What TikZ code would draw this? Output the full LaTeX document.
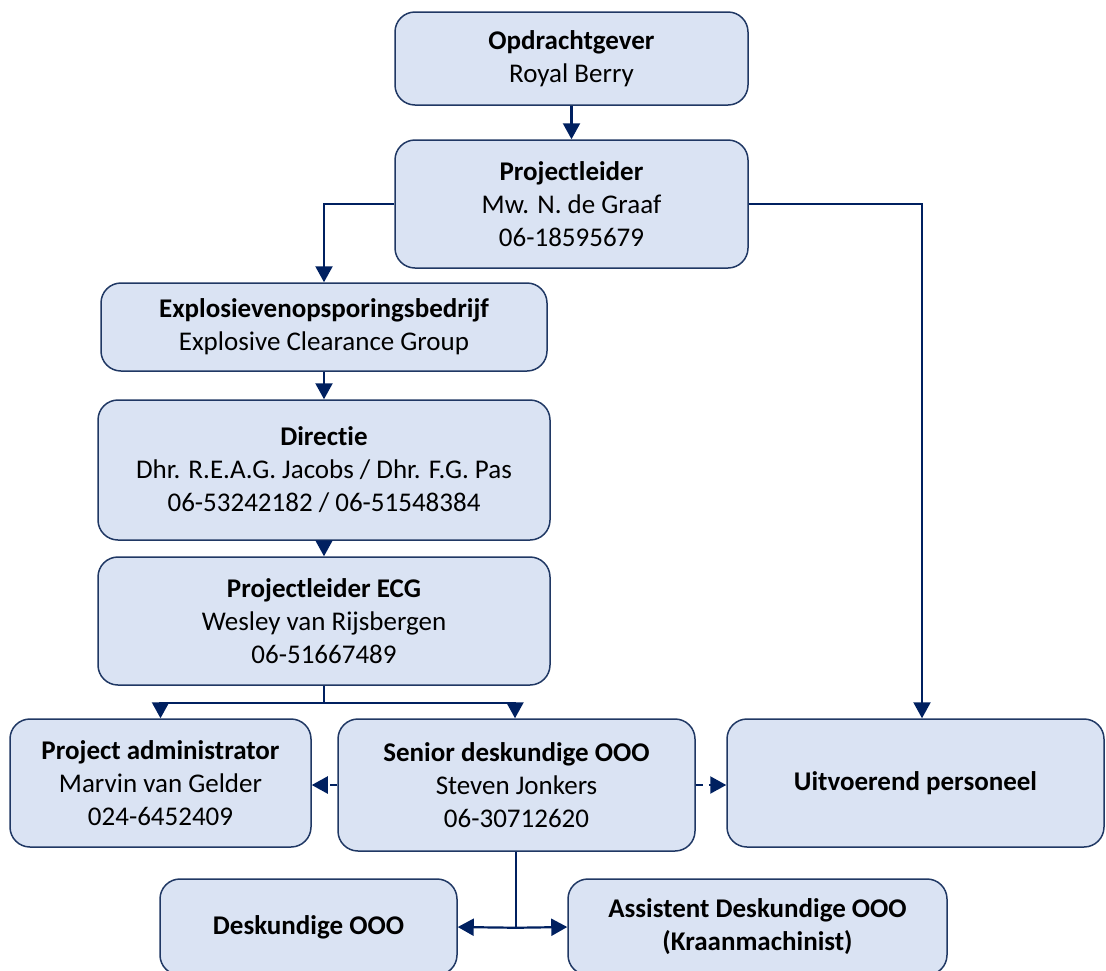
\documentclass[tikz,border=0pt]{standalone}
\usepackage{fontspec}
\setmainfont[Ligatures=NoCommon]{Carlito}
\usetikzlibrary{arrows.meta}
\definecolor{boxfill}{HTML}{DAE3F3}
\definecolor{boxline}{HTML}{203864}
\definecolor{conncol}{HTML}{002060}
\begin{document}
\begin{tikzpicture}[x=1pt,y=-1pt,
  orgbox/.style={draw=boxline,line width=1.5pt,fill=boxfill,rounded corners=20pt,
    inner sep=0pt,align=center,font=\fontsize{27}{33}\selectfont},
  conn/.style={draw=conncol,line width=2.2pt,-{Triangle[length=16pt,width=17pt]}},
  plain/.style={draw=conncol,line width=2.2pt},
  dashconn/.style={conn,dash pattern=on 7pt off 6pt}]
\useasboundingbox (0,0) rectangle (1106,970);
\node[orgbox,minimum width=353pt,minimum height=93pt] (og) at (571.5,58.5)
  {\textbf{Opdrachtgever}\\Royal Berry};
\node[orgbox,minimum width=353pt,minimum height=128pt] (pl) at (571.5,204)
  {\textbf{Projectleider}\\Mw. N. de Graaf\\06-18595679};
\node[orgbox,minimum width=446pt,minimum height=88pt] (ex) at (324,327)
  {\textbf{Explosievenopsporingsbedrijf}\\Explosive Clearance Group};
\node[orgbox,minimum width=452pt,minimum height=140pt] (dir) at (324,470)
  {\textbf{Directie}\\Dhr. R.E.A.G. Jacobs / Dhr. F.G. Pas\\06-53242182 / 06-51548384};
\node[orgbox,minimum width=452pt,minimum height=128pt] (ecg) at (324,621)
  {\textbf{Projectleider ECG}\\Wesley van Rijsbergen\\06-51667489};
\node[orgbox,minimum width=301pt,minimum height=128pt] (pa) at (160.5,783)
  {\textbf{Project administrator}\\Marvin van Gelder\\024-6452409};
\node[orgbox,minimum width=357pt,minimum height=132pt] (sd) at (516.5,785)
  {\textbf{Senior deskundige OOO}\\Steven Jonkers\\06-30712620};
\node[orgbox,minimum width=377pt,minimum height=128pt] (up) at (915.5,783)
  {\textbf{Uitvoerend personeel}};
\node[orgbox,minimum width=297pt,minimum height=96pt] (dk) at (308.5,927)
  {\textbf{Deskundige OOO}};
\node[orgbox,minimum width=379pt,minimum height=96pt] (as) at (757.5,927)
  {\textbf{Assistent Deskundige OOO}\\\textbf{(Kraanmachinist)}};
\draw[conn] (og.south) -- (pl.north);
\draw[conn] (pl.west) -| (ex.north);
\draw[conn] (pl.east) -| ([xshift=6.5pt]up.north);
\draw[conn] (ex.south) -- (dir.north);
\draw[conn] (dir.south) -- (ecg.north);
\draw[plain] (ecg.south) -- ++(0,17) coordinate (j);
\draw[conn] (j) -| (pa.north);
\draw[conn] (j) -| ([xshift=-1.5pt]sd.north);
\draw[dashconn] (sd.west) -- (sd.west -| pa.east);
\draw[dashconn] (sd.east) -- (sd.east -| up.west);
\draw[plain] ([xshift=-0.5pt]sd.south) -- ++(0,76) coordinate (k);
\draw[conn] (k) -- (dk.east);
\draw[conn] (k) -- (as.west);
\end{tikzpicture}
\end{document}
